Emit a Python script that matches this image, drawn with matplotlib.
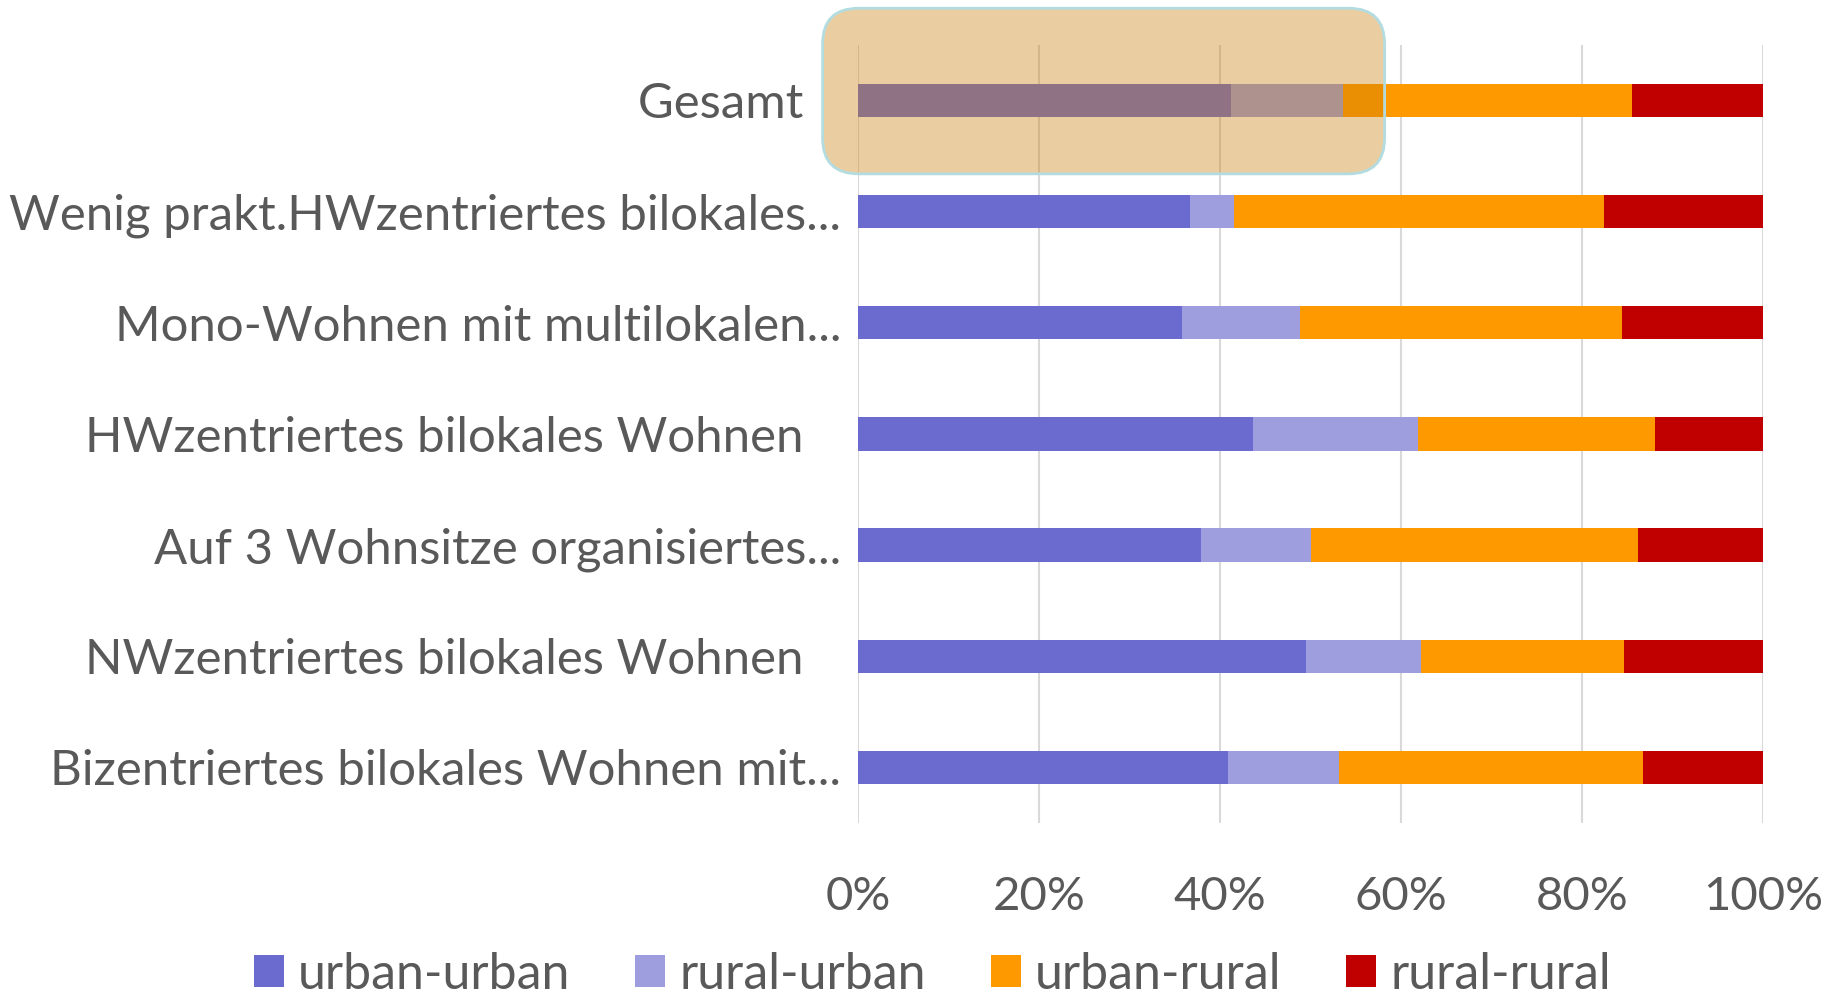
import matplotlib
matplotlib.use("Agg")
import matplotlib.pyplot as plt
from matplotlib.patches import FancyBboxPatch
import numpy as np

categories = [
    "Gesamt   ",
    "Wenig prakt.HWzentriertes bilokales...",
    "Mono-Wohnen mit multilokalen...",
    "HWzentriertes bilokales Wohnen   ",
    "Auf 3 Wohnsitze organisiertes...",
    "NWzentriertes bilokales Wohnen   ",
    "Bizentriertes bilokales Wohnen mit...",
]
series_names = ["urban-urban", "rural-urban", "urban-rural", "rural-rural"]
urban_urban = [41.2, 36.7, 35.8, 43.7, 37.9, 49.5, 40.9]
rural_urban = [12.4, 4.9, 13.1, 18.2, 12.2, 12.7, 12.3]
urban_rural = [31.9, 40.8, 35.5, 26.2, 36.1, 22.5, 33.6]
rural_rural = [14.5, 17.6, 15.6, 11.9, 13.8, 15.3, 13.2]
x_ticks = [0, 20, 40, 60, 80, 100]

colors = ["#6B6BCF", "#9E9EDE", "#FF9900", "#C00000"]
text_color = "#595959"
font = "Lato"

fig = plt.figure(figsize=(18.43, 9.98), dpi=100)
ax = fig.add_axes([0.4655, 0.1754, 0.491, 0.7796])

y = np.arange(len(categories))
left = np.zeros(len(categories))
for name, vals, c in zip(series_names, [urban_urban, rural_urban, urban_rural, rural_rural], colors):
    ax.barh(y, vals, left=left, height=0.3, color=c, label=name, zorder=2)
    left += np.array(vals)

ax.set_xlim(0, 100)
ax.set_ylim(len(categories) - 0.5, -0.5)
ax.set_xticks(x_ticks)
ax.set_xticklabels([f"{t}%" for t in x_ticks])
ax.set_yticks(y)
ax.set_yticklabels(categories)
ax.grid(axis="x", color="#D9D9D9", linewidth=1.5, zorder=0)
for s in ax.spines.values():
    s.set_visible(False)
ax.tick_params(axis="both", length=0, colors=text_color)
ax.tick_params(axis="x", pad=38, labelsize=34)
ax.tick_params(axis="y", pad=12, labelsize=35.4)
for lab in ax.get_xticklabels() + ax.get_yticklabels():
    lab.set_fontfamily(font)
    lab.set_color(text_color)

# highlight box over the Gesamt row
box = FancyBboxPatch((-3.9, -0.83), 62.1, 1.49,
                     boxstyle="round,pad=0,rounding_size=4",
                     mutation_aspect=0.08,
                     facecolor=(202/255, 128/255, 10/255, 0.38),
                     edgecolor="#B3DCE0", linewidth=2,
                     clip_on=False, zorder=5)
ax.add_patch(box)

leg = fig.legend(loc="lower center", bbox_to_anchor=(0.506, -0.045), ncol=4,
                 frameon=False, handlelength=0.6, handleheight=0.6,
                 handletextpad=0.28, columnspacing=1.3,
                 prop={"family": font, "size": 36})
for t in leg.get_texts():
    t.set_color(text_color)

fig.savefig("out.png", dpi=100)
